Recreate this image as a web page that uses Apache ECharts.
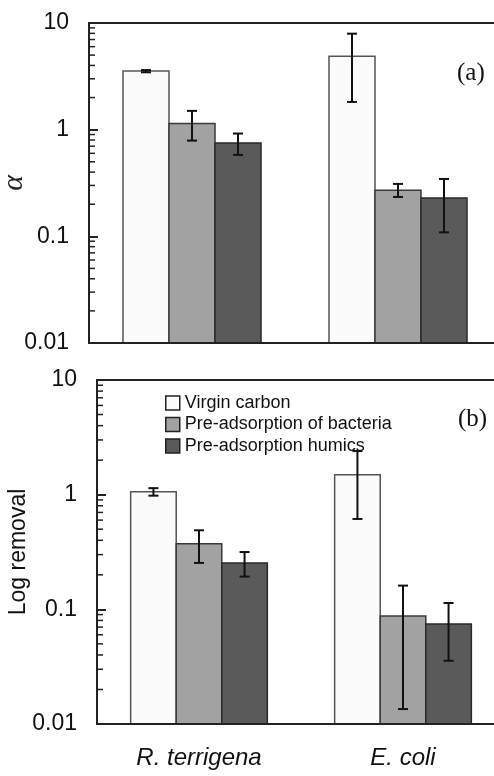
<!DOCTYPE html>
<html><head><meta charset="utf-8">
<script src="https://cdn.jsdelivr.net/npm/echarts@6/dist/echarts.min.js"></script>
<style>html,body{margin:0;padding:0;background:#fff}#c{width:494px;height:776px}</style>
</head><body><div id="c"></div>
<script>
// ---- data ----
const categories = ['R. terrigena', 'E. coli'];
const seriesNames = ['Virgin carbon', 'Pre-adsorption of bacteria', 'Pre-adsorption humics'];
const yTickLabels = ['0.01', '0.1', '1', '10'];
const minorTickValues = [0.02,0.03,0.04,0.05,0.06,0.07,0.08,0.09,0.2,0.3,0.4,0.5,0.6,0.7,0.8,0.9,2,3,4,5,6,7,8,9];

// panel (a): alpha
const alphaVirgin = [3.55, 4.87];
const alphaVirginLo = [3.45, 1.82];
const alphaVirginHi = [3.62, 7.94];
const alphaBacteria = [1.14, 0.27];
const alphaBacteriaLo = [0.79, 0.234];
const alphaBacteriaHi = [1.50, 0.31];
const alphaHumics = [0.75, 0.229];
const alphaHumicsLo = [0.58, 0.109];
const alphaHumicsHi = [0.92, 0.345];

// panel (b): log removal
const removalVirgin = [1.06, 1.49];
const removalVirginLo = [0.98, 0.614];
const removalVirginHi = [1.14, 2.40];
const removalBacteria = [0.374, 0.0875];
const removalBacteriaLo = [0.254, 0.0135];
const removalBacteriaHi = [0.489, 0.161];
const removalHumics = [0.254, 0.0745];
const removalHumicsLo = [0.193, 0.0356];
const removalHumicsHi = [0.316, 0.1135];

// ---- styles ----
const fills = ['#fbfbfb', '#a2a2a2', '#5a5a5a'];
const borders = ['#555555', '#3a3a3a', '#2a2a2a'];
const catGap = 0.33;
const axisColor = '#222';
const fontSans = 'Liberation Sans, Arial, sans-serif';

function barSeries(gridIdx, k, vals, lo, hi) {
  return {
    type: 'custom', name: seriesNames[k], xAxisIndex: gridIdx * 2, yAxisIndex: gridIdx, z: 2,
    itemStyle: { color: fills[k], borderColor: borders[k], borderWidth: 1.5 },
    data: categories.map((c, i) => [i, vals[i], lo[i], hi[i]]),
    renderItem: function (params, api) {
      const cat = api.value(0);
      const band = api.size([1, 0])[0];
      const barW = band * (1 - catGap) / 3;
      const top = api.coord([cat, api.value(1)]);
      const baseY = params.coordSys.y + params.coordSys.height;
      const cx = top[0] + (k - 1) * barW;
      const pLo = api.coord([cat, api.value(2)]);
      const pHi = api.coord([cat, api.value(3)]);
      const cap = 5;
      const st = { stroke: '#111', lineWidth: 2 };
      return { type: 'group', children: [
        { type: 'rect', shape: { x: cx - barW / 2, y: top[1], width: barW, height: baseY - top[1] },
          style: { fill: fills[k], stroke: borders[k], lineWidth: 1.5 } },
        { type: 'line', z2: 5, shape: { x1: cx, y1: pLo[1], x2: cx, y2: pHi[1] }, style: st },
        { type: 'line', z2: 5, shape: { x1: cx - cap, y1: pLo[1], x2: cx + cap, y2: pLo[1] }, style: st },
        { type: 'line', z2: 5, shape: { x1: cx - cap, y1: pHi[1], x2: cx + cap, y2: pHi[1] }, style: st }
      ]};
    }
  };
}

function minorTickSeries(gridIdx) {
  return {
    type: 'custom', xAxisIndex: gridIdx * 2, yAxisIndex: gridIdx, z: 6, silent: true,
    data: minorTickValues.map(v => [0, v]),
    renderItem: function (params, api) {
      const y = api.coord([0, api.value(1)])[1];
      const x0 = params.coordSys.x;
      return { type: 'line', shape: { x1: x0, y1: y, x2: x0 + 6, y2: y }, style: { stroke: axisColor, lineWidth: 1.5 } };
    }
  };
}

function xAxes(gridIdx, showLabels) {
  return [
    { type: 'category', gridIndex: gridIdx, data: categories,
      axisLine: { lineStyle: { color: axisColor, width: 2 } },
      axisTick: { inside: true, length: 6, lineStyle: { color: axisColor, width: 2 } },
      axisLabel: showLabels ? { show: true, fontSize: 24, fontStyle: 'italic', fontFamily: fontSans, color: '#111', margin: 22 } : { show: false },
      z: 10 },
    { type: 'category', gridIndex: gridIdx, data: categories,
      axisLine: { show: false }, axisLabel: { show: false },
      axisTick: { inside: true, alignWithLabel: true, length: 6, lineStyle: { color: axisColor, width: 2 } },
      z: 10 }
  ];
}

function yAxis(gridIdx, name, nameStyle, nameGap) {
  return {
    type: 'log', gridIndex: gridIdx, logBase: 10, min: 0.01, max: 10,
    name: name, nameLocation: 'middle', nameGap: nameGap, nameRotate: 90, nameMoveOverlap: false,
    nameTextStyle: nameStyle,
    axisLine: { show: true, lineStyle: { color: axisColor, width: 2 } },
    axisTick: { show: true, inside: true, length: 9, lineStyle: { color: axisColor, width: 2 } },
    splitLine: { show: false },
    axisLabel: { fontSize: 23, fontFamily: fontSans, color: '#111', margin: 20,
      formatter: function (v) {
        const idx = Math.round(Math.log10(v)) + 2;
        return yTickLabels[idx] !== undefined ? yTickLabels[idx] : '';
      } },
    z: 10
  };
}

const chart = echarts.init(document.getElementById('c'), null, { renderer: 'canvas' });
chart.setOption({
  animation: false,
  backgroundColor: '#fff',
  grid: [
    { left: 89, top: 23, width: 412, height: 320, show: true, borderColor: axisColor, borderWidth: 2, backgroundColor: 'transparent', containLabel: false, outerBoundsMode: 'none' },
    { left: 97, top: 380, width: 408, height: 344, show: true, borderColor: axisColor, borderWidth: 2, backgroundColor: 'transparent', containLabel: false, outerBoundsMode: 'none' }
  ],
  xAxis: [...xAxes(0, false), ...xAxes(1, true)],
  yAxis: [
    yAxis(0, 'α', { fontSize: 30, fontStyle: 'italic', fontFamily: 'Liberation Serif, Times New Roman, serif', color: '#222' }, 60),
    yAxis(1, 'Log removal', { fontSize: 23, fontFamily: fontSans, color: '#111' }, 67)
  ],
  legend: {
    orient: 'vertical', left: 165, top: 394, padding: 0,
    itemWidth: 14, itemHeight: 14, itemGap: 3.5, itemTextGap: 4, icon: 'rect',
    data: seriesNames.map((n, k) => ({ name: n, itemStyle: { color: fills[k], borderColor: '#222', borderWidth: 1.5 } })),
    textStyle: { fontSize: 18, fontFamily: fontSans, color: '#111' },
    selectedMode: false
  },
  graphic: [
    { type: 'text', left: 457, top: 61, style: { text: '(a)', font: '25px Liberation Serif, Times New Roman, serif', fill: '#111' } },
    { type: 'text', left: 458, top: 407, style: { text: '(b)', font: '25px Liberation Serif, Times New Roman, serif', fill: '#111' } }
  ],
  series: [
    barSeries(0, 0, alphaVirgin, alphaVirginLo, alphaVirginHi),
    barSeries(0, 1, alphaBacteria, alphaBacteriaLo, alphaBacteriaHi),
    barSeries(0, 2, alphaHumics, alphaHumicsLo, alphaHumicsHi),
    minorTickSeries(0),
    barSeries(1, 0, removalVirgin, removalVirginLo, removalVirginHi),
    barSeries(1, 1, removalBacteria, removalBacteriaLo, removalBacteriaHi),
    barSeries(1, 2, removalHumics, removalHumicsLo, removalHumicsHi),
    minorTickSeries(1)
  ]
});
</script></body></html>
